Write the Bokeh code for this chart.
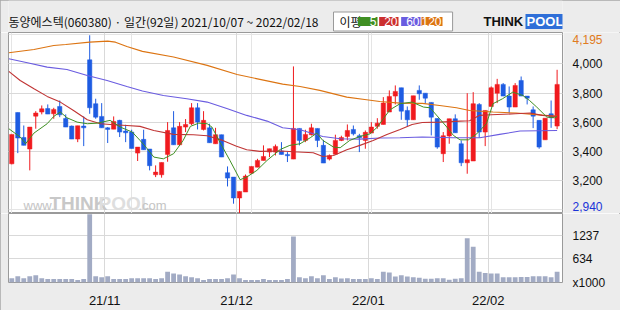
from bokeh.plotting import figure
from bokeh.layouts import column, row
from bokeh.models import Range1d, FixedTicker, Label, Grid, ColumnDataSource
from bokeh.core.properties import value
from bokeh.embed import file_html
from bokeh.resources import INLINE

# ---------------- data ----------------
title_text = "동양에스텍(060380) · 일간(92일) 2021/10/07 ~ 2022/02/18"
month_labels = ["21/11", "21/12", "22/01", "22/02"]
month_first_idx = [16, 38, 60, 80]          # index of first trading day of each month
price_ticks = [3200, 3400, 3600, 3800, 4000]
vol_ticks = [0, 634, 1237]
ma_periods = ["5", "20", "60", "120"]
max_label = "4,195"
min_label = "2,940"

opens = [3316, 3667, 3496, 3417, 3642, 3670, 3694, 3658, 3708, 3626,
         3574, 3485, 3574, 4027, 3727, 3640, 3562, 3553, 3613, 3540,
         3533, 3389, 3483, 3417, 3241, 3241, 3380, 3562, 3446, 3567,
         3590, 3699, 3551, 3562, 3453, 3515, 3255, 3225, 3082, 3123,
         3252, 3293, 3339, 3396, 3396, 3403, 3380, 3348, 3558, 3476,
         3515, 3558, 3442, 3348, 3382, 3476, 3503, 3551, 3508, 3476,
         3526, 3572, 3585, 3670, 3779, 3836, 3681, 3617, 3818, 3799,
         3736, 3626, 3385, 3506, 3624, 3453, 3323, 3335, 3722, 3533,
         3708, 3799, 3859, 3779, 3704, 3886, 3779, 3685, 3613, 3480,
         3658, 3574]
highs = [3517, 3667, 3578, 3567, 3676, 3715, 3722, 3699, 3749, 3654,
         3578, 3576, 3640, 4195, 3761, 3731, 3567, 3640, 3617, 3583,
         3549, 3430, 3549, 3417, 3305, 3325, 3601, 3676, 3601, 3622,
         3731, 3731, 3676, 3590, 3562, 3515, 3298, 3225, 3127, 3243,
         3298, 3350, 3442, 3419, 3448, 3464, 3396, 3982, 3558, 3549,
         3590, 3558, 3480, 3380, 3515, 3508, 3585, 3578, 3521, 3544,
         3601, 3628, 3772, 3818, 3852, 3836, 3708, 3781, 3852, 3799,
         3736, 3626, 3533, 3624, 3654, 3476, 3799, 3806, 3731, 3681,
         3845, 3897, 3868, 3845, 3868, 3913, 3779, 3708, 3613, 3628,
         3749, 3959]
lows = [3312, 3389, 3442, 3271, 3556, 3654, 3656, 3624, 3635, 3567,
        3485, 3464, 3437, 3658, 3624, 3562, 3458, 3553, 3499, 3464,
        3421, 3335, 3412, 3271, 3225, 3221, 3330, 3446, 3442, 3533,
        3581, 3551, 3544, 3460, 3453, 3362, 3161, 3043, 2940, 3123,
        3248, 3293, 3339, 3362, 3373, 3380, 3328, 3348, 3442, 3464,
        3510, 3430, 3321, 3339, 3382, 3471, 3476, 3510, 3396, 3419,
        3526, 3556, 3585, 3670, 3722, 3617, 3572, 3617, 3754, 3727,
        3510, 3419, 3328, 3453, 3528, 3300, 3248, 3335, 3494, 3437,
        3708, 3731, 3779, 3663, 3704, 3779, 3722, 3560, 3419, 3480,
        3562, 3553]
closes = [3517, 3492, 3442, 3567, 3663, 3692, 3656, 3688, 3651, 3567,
          3485, 3576, 3562, 3699, 3635, 3562, 3551, 3606, 3533, 3528,
          3421, 3430, 3412, 3303, 3259, 3325, 3544, 3446, 3572, 3585,
          3699, 3601, 3613, 3460, 3515, 3362, 3218, 3082, 3127, 3232,
          3298, 3339, 3366, 3419, 3435, 3380, 3371, 3558, 3476, 3517,
          3562, 3476, 3321, 3371, 3476, 3496, 3544, 3521, 3494, 3531,
          3567, 3594, 3731, 3777, 3811, 3676, 3617, 3781, 3795, 3765,
          3635, 3430, 3508, 3624, 3528, 3323, 3344, 3727, 3533, 3681,
          3836, 3859, 3779, 3704, 3852, 3779, 3765, 3642, 3430, 3628,
          3631, 3859]
volumes = [115, 164, 115, 164, 189, 115, 90, 90, 90, 90,
           90, 66, 90, 1812, 164, 139, 164, 90, 90, 90,
           115, 115, 115, 115, 90, 115, 287, 238, 213, 164,
           139, 115, 66, 90, 90, 90, 115, 213, 115, 66,
           66, 66, 90, 66, 66, 66, 90, 1222, 139, 115,
           164, 115, 189, 90, 139, 107, 115, 90, 90, 90,
           115, 90, 287, 262, 156, 189, 156, 139, 123, 98,
           98, 115, 115, 74, 98, 115, 1173, 951, 287, 254,
           238, 238, 139, 139, 139, 148, 148, 164, 164, 164,
           139, 287]

ma5_x = [-0.5, 1.4, 2.3, 3.7, 5.9, 7, 8.1, 9.2, 10.9, 12.6, 14.3, 16.4, 18.1, 20.1,
         21.4, 22.6, 23.7, 25.3, 27, 28.6, 29.8, 31.2, 32.6, 33.4, 34.8, 36.4, 38.1,
         39.2, 40.9, 42.6, 44.8, 46.4, 48.1, 49.8, 50.9, 51.9, 53.7, 54.8, 56.4, 58.1,
         59.8, 61, 62, 63.1, 64.8, 66.8, 68.7, 69.8, 71.4, 72.6, 73.7, 74.8, 76.2,
         77.6, 79.2, 80.3, 81.9, 83.6, 85.3, 86.4, 87.6, 89.3, 90.6, 91]
ma5 = [3556, 3499, 3453, 3526, 3590, 3640, 3670, 3631, 3601, 3590, 3594, 3613, 3567, 3533,
       3476, 3419, 3362, 3350, 3385, 3476, 3572, 3594, 3590, 3567, 3458, 3339, 3207,
       3225, 3271, 3339, 3414, 3442, 3453, 3494, 3526, 3476, 3430, 3426, 3476, 3503,
       3521, 3567, 3624, 3685, 3727, 3738, 3704, 3699, 3624, 3567, 3510, 3480, 3480,
       3521, 3590, 3727, 3761, 3806, 3783, 3749, 3704, 3635, 3631, 3640]
ma20_x = [-0.5, 1.4, 3.7, 5.9, 8.1, 10.3, 12.6, 14.8, 17, 19.2, 21.4, 23.7, 27, 30.3,
          32.6, 35.2, 37.4, 39.2, 41.4, 45, 47, 50.3, 51.9, 53.7, 55.9, 58.1, 60.3,
          62.6, 64.8, 66.8, 68.5, 71.4, 74.8, 76.4, 78, 80, 84, 86.5, 88.5, 91]
ma20 = [3948, 3886, 3829, 3777, 3738, 3681, 3617, 3590, 3583, 3578, 3572, 3544, 3517, 3515,
        3508, 3476, 3437, 3412, 3401, 3403, 3398, 3391, 3366, 3373, 3412, 3442, 3476,
        3517, 3551, 3585, 3598, 3601, 3608, 3610, 3647, 3651, 3658, 3663, 3647, 3640]
ma60_x = [-0.5, 2.6, 5.9, 9.2, 12.6, 15.9, 19.2, 21.8, 25.3, 29.2, 32.6, 36, 39.2,
          42.6, 45.2, 48.1, 51.9, 54.8, 58.1, 61.4, 64.8, 68.5, 73.7, 78.1, 81.4, 84.8, 91]
ma60 = [4034, 4007, 3977, 3961, 3920, 3886, 3845, 3814, 3783, 3761, 3738, 3692, 3647,
        3608, 3563, 3549, 3503, 3487, 3485, 3492, 3494, 3499, 3494, 3494, 3517, 3540, 3544]
ma120_x = [-0.5, 3.7, 7, 9, 13, 16, 17.3, 19.2, 21.8, 27, 32.6, 37.6, 41, 45.2, 48.1,
           51.4, 55.9, 59.2, 61.4, 64.8, 68.5, 71.4, 74.2, 76.4, 80.3, 84.2, 87, 91]
ma120 = [4075, 4098, 4125, 4132, 4148, 4155, 4148, 4118, 4085, 4046, 3989, 3927, 3897,
         3861, 3845, 3818, 3772, 3754, 3742, 3731, 3729, 3715, 3699, 3681, 3670, 3663,
         3654, 3640]

# ---------------- style ----------------
BG = "#ececec"
RED = "#f01a1e"
BLUE = "#1e5ce2"
C5, C20, C60, C120 = "#3f8f23", "#c03434", "#6a5ce0", "#dc7412"
LEG_COLS = ["#3f8f23", "#cc2f2f", "#6a5ce0", "#dc7412"]
GRID = "#d9d9d9"
FONT = "Liberation Sans"
KFONT = "Noto Sans CJK KR"
TXT = "#111111"

N = len(opens)
idx = list(range(N))
colors = [RED if c >= o else BLUE for o, c in zip(opens, closes)]
src = ColumnDataSource(dict(
    x=idx, h=highs, l=lows,
    top=[max(o, c) for o, c in zip(opens, closes)],
    bot=[min(o, c) for o, c in zip(opens, closes)],
    color=colors, vol=volumes))

month_pos = [i - 0.5 for i in month_first_idx]
xr = Range1d(-0.55, 91.9)
yr = Range1d(2976, 4214)

common = dict(toolbar_location=None, output_backend="svg")

# ---------------- header (title / legend / logo) ----------------
# same side borders as the chart panels so that frames line up (frame = x 8..562)
hd = figure(width=620, height=32, x_range=Range1d(0, 554), y_range=Range1d(0, 32),
            x_axis_location=None, y_axis_location=None,
            min_border_left=8, min_border_right=58, min_border_top=0, min_border_bottom=0,
            background_fill_color=BG, border_fill_color=BG, outline_line_color=None, **common)
hd.grid.visible = False

def hlab(text, X, Y, **kw):
    d = dict(text_font=FONT, text_font_size="13px", text_baseline="middle", text_color=TXT)
    d.update(kw)
    hd.add_layout(Label(x=X - 8, y=32 - Y, x_units="screen", y_units="screen", text=text, **d))

hlab(title_text, 8, 21, text_font=KFONT, text_font_size="12px")
hlab("이평", 333, 21, text_font=KFONT, text_font_size="12px",
     background_fill_color="white", border_line_color="#9a9a9a",
     padding=dict(left=6, right=91, top=1, bottom=1))
for t, col, xr_ in zip(ma_periods, LEG_COLS, [377, 398, 420, 442]):
    w = {1: 7, 2: 14, 3: 20}[len(t)]
    hlab(t, xr_, 21, text_align="right", text_color="white", text_font_size="12px",
         background_fill_color=col, padding=dict(left=max(0, 19 - w), right=1, top=0, bottom=0))
hlab("THINK", 483, 21, text_font_style="bold", text_font_size="13px")
hlab("POOL", 525, 21, text_font_style="bold", text_font_size="13px", text_color="white",
     background_fill_color="#2f6fd8", padding=dict(left=1, right=1, top=0, bottom=0))

# ---------------- price panel ----------------
p1 = figure(width=563, height=181, x_range=xr, y_range=yr,
            x_axis_location=None, y_axis_location=None,
            min_border_left=8, min_border_right=1, min_border_top=0, min_border_bottom=0,
            background_fill_color="white", border_fill_color=BG,
            outline_line_color="#9a9a9a", **common)
p1.add_layout(Grid(dimension=1, ticker=FixedTicker(ticks=price_ticks), grid_line_color=GRID))
p1.add_layout(Grid(dimension=0, ticker=FixedTicker(ticks=month_pos), grid_line_color=GRID))

p1.segment(x0="x", y0="h", x1="x", y1="l", line_color="color", line_width=1, source=src)
p1.vbar(x="x", width=0.72, top="top", bottom="bot", fill_color="color",
        line_color="color", line_width=0.5, source=src)
p1.line(ma120_x, ma120, line_color=C120, line_width=1.1)
p1.line(ma60_x, ma60, line_color=C60, line_width=1.1)
p1.line(ma20_x, ma20, line_color=C20, line_width=1.1)
p1.line(ma5_x, ma5, line_color=C5, line_width=1.0)

FH = 181
def plab(text, X, Y, **kw):
    d = dict(text_font=FONT, text_font_size="13px", text_baseline="middle")
    d.update(kw)
    p1.add_layout(Label(x=X - 8, y=FH + 32 - Y, x_units="screen", y_units="screen", text=text, **d))

# watermark
plab("www.", 23, 205, text_color="#c4c4c4", text_font_size="13px")
plab("THINK", 49, 203, text_color="#c8c8c8", text_font_size="19px", text_font_style="bold")
plab("POOL", 98, 203, text_color="#dedede", text_font_size="19px", text_font_style="bold")
plab(".com", 138, 205, text_color="#c4c4c4", text_font_size="13px")

# right strip with price labels
st = figure(width=57, height=181, x_range=Range1d(0, 57), y_range=yr,
            x_axis_location=None, y_axis_location=None,
            min_border_left=0, min_border_right=0, min_border_top=0, min_border_bottom=0,
            background_fill_color=BG, border_fill_color=BG, outline_line_color=None, **common)
st.grid.visible = False
st.text(x=[9] * len(price_ticks), y=price_ticks, text=[f"{t:,}" for t in price_ticks],
        text_font=value(FONT), text_font_size="12px", text_baseline="middle",
        text_color=TXT)
st.add_layout(Label(x=9, y=FH - 7, x_units="screen", y_units="screen", text=max_label,
                    text_font=FONT, text_font_size="12px", text_baseline="middle",
                    text_color="#e07b20"))
st.add_layout(Label(x=9, y=FH - 174, x_units="screen", y_units="screen", text=min_label,
                    text_font=FONT, text_font_size="12px", text_baseline="middle",
                    text_color="#1b34d8"))

# ---------------- volume panel ----------------
p2 = figure(width=620, height=97, x_range=xr, y_range=Range1d(0, 1830),
            x_axis_location="below", y_axis_location="right",
            min_border_left=8, min_border_right=58, min_border_top=0, min_border_bottom=22,
            background_fill_color="white", border_fill_color=BG,
            outline_line_color="#9a9a9a", **common)
p2.ygrid.ticker = FixedTicker(ticks=vol_ticks[1:])
p2.ygrid.grid_line_color = GRID
p2.xgrid.ticker = FixedTicker(ticks=month_pos)
p2.xgrid.grid_line_color = GRID
xa = p2.xaxis[0]
xa.ticker = FixedTicker(ticks=month_pos)
xa.major_label_overrides = {float(pos): lb for pos, lb in zip(month_pos, month_labels)}
xa.axis_line_color = None
xa.major_tick_line_color = None
xa.minor_tick_line_color = None
xa.major_tick_out = 0
xa.major_tick_in = 0
xa.major_label_standoff = 10
xa.major_label_text_font = FONT
xa.major_label_text_font_size = "13px"
xa.major_label_text_color = TXT
va = p2.yaxis[0]
va.ticker = FixedTicker(ticks=vol_ticks)
va.major_label_overrides = {0: "x1000"}
va.axis_line_color = None
va.major_tick_line_color = None
va.minor_tick_line_color = None
va.major_tick_out = 0
va.major_tick_in = 0
va.major_label_standoff = 10
va.major_label_text_font = FONT
va.major_label_text_font_size = "12px"
va.major_label_text_color = TXT

p2.vbar(x="x", width=0.8, top="vol", bottom=0, fill_color="#a2abc4", line_color=None, source=src)

layout = column(hd, row(p1, st, spacing=0), p2, spacing=0,
                styles={"outline": "1px solid #a8a8a8", "outline-offset": "-1px"})
open("out.html", "w").write(file_html(layout, INLINE))
